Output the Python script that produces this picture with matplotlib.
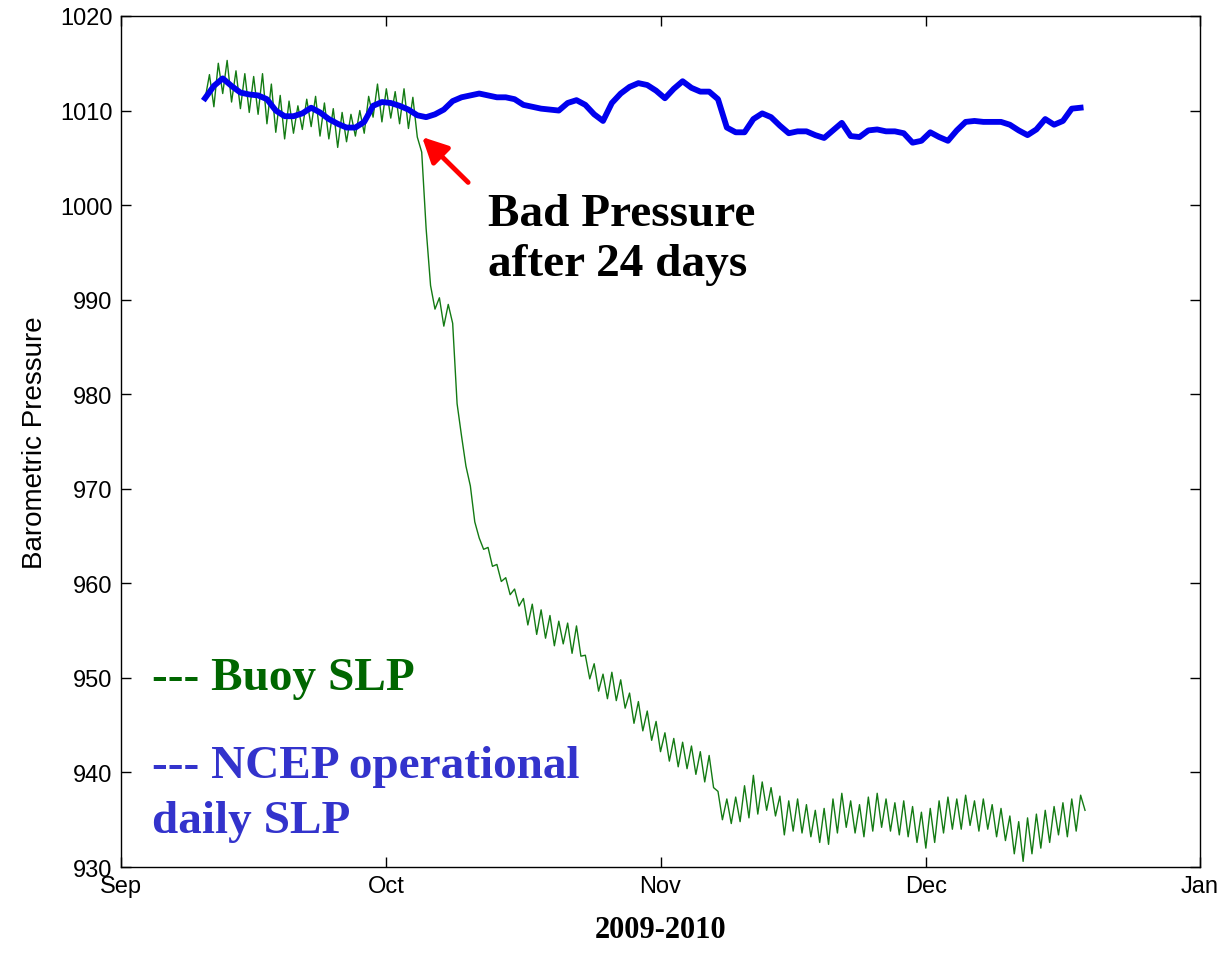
import matplotlib
matplotlib.use("Agg")
import matplotlib.pyplot as plt
import matplotlib.dates as mdates
import pandas as pd

# NCEP operational daily SLP, one value per day from Sep 10 12:00
ncep_start = "2009-09-10 12:00"
ncep_slp = [
    1011.3, 1012.6, 1013.4, 1012.6, 1011.9, 1011.7, 1011.6, 1011.2, 1010.0, 1009.4,
    1009.4, 1009.7, 1010.3, 1009.8, 1009.1, 1008.6, 1008.2, 1008.2, 1008.8, 1010.5,
    1010.9, 1010.8, 1010.5, 1010.1, 1009.5, 1009.3, 1009.6, 1010.1, 1011.0, 1011.4,
    1011.6, 1011.8, 1011.6, 1011.4, 1011.4, 1011.2, 1010.6, 1010.4, 1010.2, 1010.1,
    1010.0, 1010.8, 1011.1, 1010.6, 1009.6, 1008.9, 1010.8, 1011.8, 1012.5, 1012.9,
    1012.7, 1012.1, 1011.3, 1012.3, 1013.1, 1012.4, 1012.0, 1012.0, 1011.2, 1008.2,
    1007.7, 1007.7, 1009.1, 1009.7, 1009.3, 1008.4, 1007.6, 1007.8, 1007.8, 1007.4,
    1007.1, 1007.9, 1008.7, 1007.3, 1007.2, 1007.9, 1008.0, 1007.8, 1007.8, 1007.6,
    1006.6, 1006.8, 1007.7, 1007.2, 1006.8, 1007.9, 1008.8, 1008.9, 1008.8, 1008.8,
    1008.8, 1008.5, 1007.9, 1007.4, 1008.0, 1009.1, 1008.5, 1008.9, 1010.2, 1010.3,
]

# Buoy SLP, read every 12 hours from Sep 10 12:00
buoy_start = "2009-09-10 12:00"
buoy_slp = [
    1011.2, 1013.8, 1010.4, 1015.0, 1011.8, 1015.3, 1010.9, 1014.2, 1010.2, 1013.9,
    1009.8, 1013.6, 1009.6, 1013.9, 1008.6, 1012.8, 1007.7, 1011.6, 1007.0, 1011.0,
    1007.6, 1010.5, 1008.0, 1011.2, 1008.3, 1011.5, 1007.3, 1010.8, 1007.0, 1010.2,
    1006.1, 1009.8, 1006.7, 1009.6, 1007.3, 1010.0, 1007.6, 1011.5, 1009.3, 1012.8,
    1008.8, 1012.3, 1009.2, 1012.0, 1008.6, 1012.3, 1008.1, 1011.4, 1007.2, 1005.6,
    997.5, 991.5, 989.0, 990.2, 987.2, 989.5, 987.5, 979.0, 975.6, 972.4,
    970.3, 966.5, 964.8, 963.6, 963.8, 961.8, 962.0, 960.2, 960.6, 958.8,
    959.4, 957.6, 958.4, 955.6, 957.8, 954.6, 957.2, 954.2, 956.6, 953.4,
    956.0, 953.6, 955.8, 952.6, 955.5, 952.3, 952.4, 949.9, 951.5, 948.6,
    950.4, 947.8, 950.6, 947.6, 949.8, 946.8, 948.4, 945.2, 947.5, 944.4,
    946.5, 943.4, 945.4, 942.2, 944.2, 941.2, 943.6, 940.6, 943.2, 940.4,
    942.8, 939.8, 942.2, 939.0, 941.8, 938.4, 938.0, 935.0, 937.2, 934.6,
    937.4, 934.8, 938.6, 935.2, 939.7, 935.6, 939.0, 936.0, 938.4, 935.4,
    937.5, 933.4, 937.0, 933.8, 937.2, 933.6, 936.6, 933.2, 936.0, 932.6,
    936.2, 932.4, 937.2, 933.6, 937.8, 934.2, 937.0, 933.6, 936.6, 933.2,
    937.4, 933.8, 937.8, 934.2, 937.2, 933.8, 936.8, 933.4, 937.0, 933.2,
    936.4, 932.6, 935.8, 932.0, 936.2, 932.6, 937.0, 933.6, 937.4, 934.0,
    937.2, 934.0, 937.6, 934.4, 937.0, 933.8, 937.2, 934.0, 936.6, 933.2,
    936.2, 932.8, 935.4, 931.4, 934.8, 930.6, 935.2, 931.4, 935.6, 932.0,
    936.0, 932.6, 936.4, 933.4, 936.8, 933.2, 937.2, 933.8, 937.6, 936.0,
]

ncep_time = pd.date_range(ncep_start, periods=len(ncep_slp), freq="D")
buoy_time = pd.date_range(buoy_start, periods=len(buoy_slp), freq="12h")

serif = ["Liberation Serif", "DejaVu Serif"]
sans = ["Liberation Sans", "DejaVu Sans"]

fig = plt.figure(figsize=(12.26, 9.54), dpi=100)
ax = fig.add_axes([0.0987, 0.0901, 0.8801, 0.8921])

ax.plot(buoy_time, buoy_slp, color="#137a13", lw=1.0)
ax.plot(ncep_time, ncep_slp, color="#0000ee", lw=4.2)

ax.set_xlim(pd.Timestamp("2009-09-01"), pd.Timestamp("2010-01-01"))
ax.set_ylim(930, 1020)
ax.xaxis.set_major_locator(mdates.MonthLocator())
ax.xaxis.set_major_formatter(mdates.DateFormatter("%b"))
ax.set_yticks(range(930, 1021, 10))

ax.tick_params(direction="in", length=7, width=1, top=True, right=True,
               labelsize=17, pad=6)
for lab in ax.get_xticklabels() + ax.get_yticklabels():
    lab.set_family(sans)
for s in ax.spines.values():
    s.set_linewidth(1.0)

ax.set_ylabel("Barometric Pressure", fontsize=20, family=sans, labelpad=9)
ax.set_xlabel("2009-2010", fontsize=22, family=serif, fontweight="bold",
              labelpad=13)

# annotation
ax.annotate("", xy=(pd.Timestamp("2009-10-05 01:00"), 1007.2),
            xytext=(pd.Timestamp("2009-10-10 06:00"), 1002.4),
            arrowprops=dict(arrowstyle="-|>", color="red", lw=3.5,
                            mutation_scale=38, shrinkA=0, shrinkB=0))
ax.text(pd.Timestamp("2009-10-12 12:00"), 997.9, "Bad Pressure",
        fontsize=34, family=serif, fontweight="bold", color="black")
ax.text(pd.Timestamp("2009-10-12 12:00"), 992.6, "after 24 days",
        fontsize=34, family=serif, fontweight="bold", color="black")

ax.text(pd.Timestamp("2009-09-04 12:00"), 948.8, "--- Buoy SLP",
        fontsize=34, family=serif, fontweight="bold", color="#006600")
ax.text(pd.Timestamp("2009-09-04 12:00"), 939.5, "--- NCEP operational",
        fontsize=34, family=serif, fontweight="bold", color="#3333cc")
ax.text(pd.Timestamp("2009-09-04 12:00"), 933.7, "daily SLP",
        fontsize=34, family=serif, fontweight="bold", color="#3333cc")

fig.savefig("out.png", dpi=100)
